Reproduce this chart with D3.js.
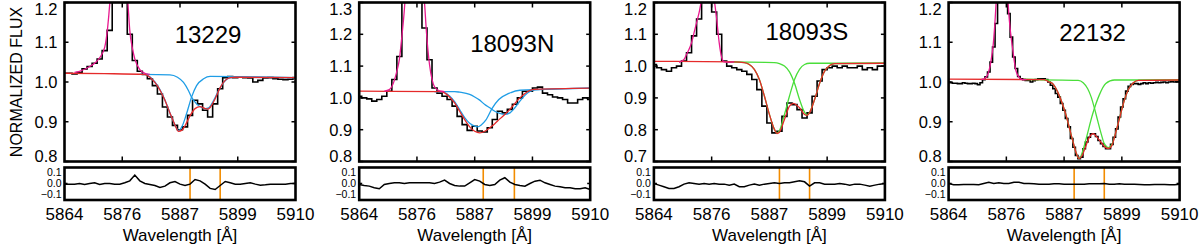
<!DOCTYPE html>
<html>
<head>
<meta charset="utf-8">
<script src="https://cdn.jsdelivr.net/npm/d3@7"></script>
<style>
body { margin: 0; background: #fff; }
text { font-family: "Liberation Sans", Arial, Helvetica, sans-serif; fill: #000; }
</style>
</head>
<body>
<div id="chart"></div>
<script>
// ---- Data ----
var names = ["13229", "18093N", "18093S", "22132"];
var xDomain = [5864, 5910];
var xTicks = [5864, 5875.5, 5887, 5898.5, 5910];
var xTickLabels = ["5864", "5876", "5887", "5899", "5910"];
var yDomains = [[0.8, 1.2], [0.8, 1.3], [0.7, 1.2], [0.8, 1.2]];
var yTicks = [
    [0.8, 0.9, 1.0, 1.1, 1.2],
    [0.8, 0.9, 1.0, 1.1, 1.2, 1.3],
    [0.7, 0.8, 0.9, 1.0, 1.1, 1.2],
    [0.8, 0.9, 1.0, 1.1, 1.2]
];
var resTicks = [0.1, 0.0, -0.1];
var resTickLabels = ["0.1", "0.0", "\u22120.1"];

// observed spectra (flux per bin, starting at 5864 A)
var obsStep = [1, 1, 1, 0.5];
var obs1 = [1.022, 1.022, 1.020, 1.024, 1.033, 1.039, 1.047, 1.058, 1.079, 1.130,
    1.35, 1.45, 1.30, 1.120, 1.054, 1.027, 1.019, 1.008, 0.991, 0.970,
    0.937, 0.912, 0.891, 0.880, 0.887, 0.916, 0.954, 0.945, 0.929, 0.912,
    0.945, 0.983, 1.011, 1.014, 1.011, 1.012, 1.011, 1.010, 1.000, 1.004,
    1.010, 1.011, 1.008, 1.007, 1.006, 1.007, 1.011];
var obs2 = [1.005, 1.000, 0.997, 0.990, 0.995, 1.005, 1.021, 1.058, 1.130, 1.40,
    1.5, 1.6, 1.5, 1.22, 1.120, 1.031, 1.015, 1.005, 0.995, 0.974,
    0.942, 0.916, 0.898, 0.911, 0.896, 0.893, 0.906, 0.932, 0.958, 0.953,
    0.964, 0.980, 1.000, 1.021, 1.021, 1.031, 1.034, 1.015, 1.010, 1.003,
    1.000, 0.995, 0.984, 0.984, 0.995, 1.000, 0.995];
var obs3 = [1.005, 0.995, 0.989, 0.984, 0.995, 1.000, 1.016, 1.042, 1.095, 1.148,
    1.25, 1.3, 1.17, 1.100, 1.016, 1.000, 0.995, 0.989, 0.984, 0.974,
    0.958, 0.926, 0.874, 0.821, 0.790, 0.795, 0.842, 0.884, 0.879, 0.863,
    0.837, 0.853, 0.905, 0.953, 0.989, 0.995, 1.000, 0.995, 1.000, 0.995,
    0.995, 1.000, 0.989, 0.995, 0.989, 1.000, 1.000];
var obs4 = [1.000, 0.998, 0.997, 0.997, 0.996, 0.996, 0.998, 0.997, 0.996, 0.996,
    0.997, 0.996, 0.993, 0.998, 1.006, 1.013, 1.025, 1.050, 1.088, 1.147,
    1.25, 1.35, 1.35, 1.25, 1.172, 1.113, 1.063, 1.034, 1.014, 1.008,
    1.006, 1.004, 1.004, 1.000, 1.003, 1.006, 1.008, 1.008, 1.008, 1.006,
    1.000, 0.992, 0.983, 0.971, 0.962, 0.946, 0.929, 0.908, 0.887, 0.858,
    0.836, 0.815, 0.807, 0.811, 0.832, 0.849, 0.861, 0.870, 0.870, 0.863,
    0.853, 0.845, 0.838, 0.832, 0.832, 0.843, 0.861, 0.882, 0.912, 0.937,
    0.958, 0.977, 0.989, 0.994, 0.996, 0.996, 0.994, 0.996, 0.998, 0.996,
    0.998, 0.997, 0.998, 0.999, 0.998, 0.999, 1.000, 0.998, 1.000, 1.001,
    1.000, 1.001, 1.001];

// residuals (1 A bins from 5864)
var res1 = [-0.006, -0.006, -0.006, 0, -0.009, 0, 0.006, -0.009, 0, 0,
    -0.006, -0.006, 0.006, 0.024, 0.076, 0.024, 0, -0.009, -0.018, -0.036,
    -0.024, 0.006, 0.018, -0.006, -0.018, -0.006, 0.036, 0.024, -0.006, -0.045,
    -0.055, -0.018, 0.018, 0.006, -0.006, -0.006, 0, 0.006, -0.006, -0.015,
    -0.012, -0.006, -0.006, -0.006, -0.006, 0, 0];
var res2 = [-0.009, -0.018, -0.024, -0.039, -0.048, -0.009, 0, 0.006, 0.006, 0,
    0.006, 0.006, 0.006, 0.006, 0.006, 0, 0.012, 0.030, 0, -0.018,
    -0.024, -0.024, 0.006, 0.036, 0.021, -0.009, -0.018, -0.009, 0.030, 0.052,
    0.012, -0.009, -0.018, -0.024, 0, 0.021, 0.030, 0.006, -0.009, -0.024,
    -0.030, -0.039, -0.039, -0.048, -0.048, -0.039, -0.055];
var res3 = [0, -0.015, -0.030, -0.045, -0.045, -0.030, -0.006, 0.006, 0, -0.006,
    0, -0.006, 0, -0.006, -0.006, -0.015, -0.006, -0.030, -0.030, -0.015,
    -0.006, -0.015, -0.006, 0, 0.006, 0, 0.006, 0.006, 0.015, 0.024,
    0.015, -0.024, 0.006, 0.006, -0.006, -0.006, -0.006, 0, -0.006, -0.015,
    -0.006, -0.006, -0.015, -0.024, -0.015, -0.006, 0];
var res4 = [0, -0.012, -0.012, -0.009, -0.009, -0.009, -0.012, 0, 0.012, 0,
    0.006, 0, 0, 0.012, 0.012, 0, 0, -0.003, -0.006, -0.006,
    -0.006, -0.003, -0.003, -0.006, -0.006, -0.006, -0.006, -0.006, -0.003, -0.003,
    -0.003, 0, -0.006, -0.006, -0.003, -0.006, -0.006, -0.006, -0.009, -0.012,
    -0.012, -0.009, -0.009, -0.009, -0.012, -0.012, -0.006];

// total absorption fits [wavelength, flux]
var fit1 = [[5864, 1.022], [5872, 1.021], [5880, 1.019], [5881, 1.012], [5882, 0.999], [5883, 0.980],
    [5884, 0.954], [5885, 0.922], [5886, 0.892], [5886.7, 0.876], [5887.4, 0.879], [5888, 0.890],
    [5889, 0.915], [5890, 0.933], [5891, 0.938], [5892, 0.933], [5892.6, 0.932], [5893, 0.936],
    [5894, 0.958], [5895, 0.986], [5896, 1.004], [5897, 1.011], [5898, 1.012], [5910, 1.011]];
var fit2 = [[5864, 1.021], [5880, 1.020], [5881, 1.016], [5882, 1.003], [5883, 0.984], [5884, 0.958],
    [5885, 0.932], [5886, 0.909], [5887, 0.895], [5888, 0.890], [5889, 0.895], [5890, 0.906],
    [5891, 0.919], [5892, 0.934], [5893, 0.948], [5894, 0.964], [5895, 0.983], [5896, 1.000],
    [5897, 1.014], [5898, 1.024], [5899, 1.027], [5910, 1.031]];
var fit3 = [[5864, 1.015], [5880, 1.013], [5882, 1.011], [5883, 1.005], [5884, 0.990], [5885, 0.958],
    [5886, 0.906], [5887, 0.848], [5888, 0.801], [5888.5, 0.788], [5889, 0.792], [5890, 0.832],
    [5891, 0.874], [5891.8, 0.883], [5892.5, 0.876], [5893, 0.869], [5894, 0.848], [5894.5, 0.845],
    [5895, 0.853], [5896, 0.895], [5897, 0.946], [5898, 0.984], [5899, 1.002], [5900, 1.008], [5910, 1.009]];
var fit4 = [[5864, 1.007], [5883, 1.006], [5884, 1.000], [5884.7, 0.996], [5886, 0.967], [5887.3, 0.920],
    [5888.7, 0.853], [5889.4, 0.822], [5890, 0.807], [5890.6, 0.815], [5891.3, 0.838], [5892, 0.860],
    [5892.8, 0.870], [5893.5, 0.862], [5894.5, 0.846], [5895.3, 0.835], [5895.9, 0.833], [5896.6, 0.843],
    [5897.2, 0.869], [5897.9, 0.902], [5898.6, 0.936], [5899.2, 0.962], [5899.9, 0.983], [5900.8, 0.998],
    [5901.8, 1.004], [5910, 1.005]];

// individual components
var comp1a = [[5879, 1.019], [5880, 1.019], [5881, 1.013], [5882, 1.000], [5883, 0.981], [5884, 0.955],
    [5885, 0.922], [5886, 0.892], [5886.7, 0.878], [5887.4, 0.888], [5888.3, 0.920], [5889.3, 0.962],
    [5890.3, 0.991], [5891.7, 1.008], [5893, 1.014], [5910, 1.011]];
var comp1b = [[5879, 1.019], [5885, 1.018], [5886.5, 1.012], [5887.7, 0.999], [5888.7, 0.978],
    [5889.3, 0.962], [5890.3, 0.945], [5891.3, 0.936], [5892, 0.933], [5892.7, 0.935], [5893.7, 0.954],
    [5894.7, 0.979], [5895.7, 0.999], [5896.7, 1.010], [5898, 1.012], [5910, 1.011]];
var comp2a = [[5879, 1.020], [5880, 1.020], [5881, 1.017], [5882, 1.006], [5883, 0.988], [5884, 0.963],
    [5885, 0.938], [5886, 0.920], [5887, 0.911], [5887.6, 0.909], [5888.3, 0.915], [5889.2, 0.930],
    [5890.5, 0.968], [5891.8, 0.995], [5893.8, 1.014], [5896, 1.024], [5910, 1.031]];
var comp2b = [[5879, 1.020], [5883, 1.020], [5884, 1.018], [5886, 1.011], [5887, 1.003], [5888, 0.993],
    [5889, 0.979], [5890, 0.969], [5891, 0.958], [5892, 0.951], [5893, 0.948], [5894, 0.953],
    [5895, 0.969], [5896, 0.990], [5897, 1.008], [5898, 1.020], [5899, 1.025], [5910, 1.031]];
var comp3a = [[5878.5, 1.013], [5882, 1.011], [5883, 1.005], [5884, 0.990], [5885, 0.958], [5886, 0.906],
    [5887, 0.848], [5888, 0.801], [5888.5, 0.789], [5889, 0.797], [5890, 0.848], [5891, 0.906],
    [5892, 0.958], [5893, 0.990], [5894, 1.005], [5895, 1.009], [5910, 1.009]];
var comp3b = [[5878.5, 1.013], [5888, 1.011], [5889, 1.008], [5890, 1.000], [5891, 0.982], [5892, 0.946],
    [5893, 0.895], [5894, 0.855], [5894.5, 0.846], [5895, 0.855], [5896, 0.895], [5897, 0.946],
    [5898, 0.984], [5899, 1.002], [5900, 1.008], [5910, 1.009]];
var comp4a = [[5879, 1.007], [5883, 1.006], [5884.7, 0.996], [5886, 0.967], [5887.3, 0.920],
    [5888.7, 0.853], [5889.4, 0.822], [5890, 0.807], [5890.6, 0.822], [5891.3, 0.853], [5892.7, 0.920],
    [5894, 0.967], [5895.3, 0.996], [5897, 1.005], [5910, 1.005]];
var comp4b = [[5879, 1.006], [5889.8, 1.004], [5890.8, 0.998], [5891.7, 0.983], [5892.4, 0.962],
    [5893.0, 0.936], [5893.7, 0.902], [5894.4, 0.869], [5895.0, 0.845], [5895.8, 0.835], [5896.6, 0.845],
    [5897.2, 0.869], [5897.9, 0.902], [5898.6, 0.936], [5899.2, 0.962], [5899.9, 0.983], [5900.8, 0.998],
    [5901.8, 1.004], [5910, 1.005]];

// He I emission fits
var emis1 = [[5866, 1.024], [5867, 1.027], [5868, 1.032], [5869, 1.039], [5870, 1.047],
    [5871, 1.061], [5872, 1.087], [5872.6, 1.138], [5873, 1.196], [5873.5, 1.30], [5874.8, 1.55],
    [5876, 1.32], [5876.6, 1.205], [5877, 1.130], [5877.6, 1.080], [5878, 1.058], [5879, 1.031],
    [5880, 1.022], [5881, 1.019]];
var emis2 = [[5869, 1.021], [5870, 1.026], [5871, 1.055], [5871.5, 1.084], [5872, 1.121],
    [5872.5, 1.194], [5873, 1.279], [5873.3, 1.35], [5875, 1.75], [5876.7, 1.35], [5877, 1.30],
    [5877.4, 1.205], [5878, 1.105], [5878.5, 1.058], [5879, 1.035], [5880, 1.022], [5881, 1.020]];
var emis3 = [[5869, 1.012], [5870, 1.021], [5870.5, 1.037], [5871, 1.053], [5871.5, 1.074],
    [5872, 1.105], [5872.5, 1.137], [5873, 1.168], [5873.5, 1.21], [5874.8, 1.30], [5876, 1.21],
    [5876.5, 1.148], [5877, 1.074], [5877.5, 1.027], [5878, 1.013], [5879, 1.012], [5880, 1.013]];
var emis4 = [[5870.5, 1.006], [5871.2, 1.009], [5871.8, 1.019], [5872.4, 1.050],
    [5872.9, 1.096], [5873.3, 1.164], [5873.6, 1.23], [5874.7, 1.60], [5875.7, 1.23], [5876.1, 1.155],
    [5876.8, 1.079], [5877.4, 1.029], [5878.1, 1.011], [5878.7, 1.006], [5879.5, 1.006]];

// Na D marker positions in the residual boxes
var markers = [[5889.0, 5895.0], [5888.7, 5894.9], [5889.0, 5895.0], [5889.0, 5895.0]];
var compColors = ["#1f9de6", "#1f9de6", "#4ade3a", "#4ade3a"];

// ---- Layout ----
var svgWidth = 1200;
var svgHeight = 250;
var panelLeft0 = 64.5;
var panelGap = 294.7;
var panelWidth = 231;
var mainTop = 2.5, mainBottom = 161.5;
var resTop = 167.5, resBottom = 200;
var titleOffsets = [[143.5, 42.5], [153, 51.5], [153, 39.5], [144, 40.5]];

var panels = [
    { obs: obs1, res: res1, fit: fit1, comps: [comp1a, comp1b], emis: emis1 },
    { obs: obs2, res: res2, fit: fit2, comps: [comp2a, comp2b], emis: emis2 },
    { obs: obs3, res: res3, fit: fit3, comps: [comp3a, comp3b], emis: emis3 },
    { obs: obs4, res: res4, fit: fit4, comps: [comp4a, comp4b], emis: emis4 }
];

var svg = d3.select("#chart")
    .append("svg")
    .attr("width", svgWidth)
    .attr("height", svgHeight);

// Y axis title
svg.append("text")
    .attr("transform", "translate(21.5, 82) rotate(-90)")
    .attr("text-anchor", "middle")
    .attr("font-size", 16)
    .text("NORMALIZED FLUX");

panels.forEach(function (p, i) {
    var left = panelLeft0 + i * panelGap;
    var right = left + panelWidth;

    var xScale = d3.scaleLinear().domain(xDomain).range([left, right]);
    var yScale = d3.scaleLinear().domain(yDomains[i]).range([mainBottom, mainTop]);
    var rScale = d3.scaleLinear().domain([-0.15, 0.145]).range([resBottom, resTop]);

    var clipId = "clip" + i;
    svg.append("clipPath").attr("id", clipId)
        .append("rect")
        .attr("x", left).attr("y", mainTop)
        .attr("width", panelWidth).attr("height", mainBottom - mainTop);

    var g = svg.append("g").attr("clip-path", "url(#" + clipId + ")");

    // observed spectrum as a histogram
    var obsLine = d3.line()
        .x(function (d, k) { return xScale(xDomain[0] + k * obsStep[i]); })
        .y(function (d) { return yScale(d); })
        .curve(d3.curveStep);
    g.append("path")
        .datum(p.obs)
        .attr("d", obsLine)
        .attr("fill", "none")
        .attr("stroke", "#000")
        .attr("stroke-width", 1.6);

    var fitLine = d3.line()
        .x(function (d) { return xScale(d[0]); })
        .y(function (d) { return yScale(d[1]); })
        .curve(d3.curveMonotoneX);

    // components
    p.comps.forEach(function (c) {
        g.append("path")
            .datum(c)
            .attr("d", fitLine)
            .attr("fill", "none")
            .attr("stroke", compColors[i])
            .attr("stroke-width", 1.3);
    });

    // total fit
    g.append("path")
        .datum(p.fit)
        .attr("d", fitLine)
        .attr("fill", "none")
        .attr("stroke", "#e52a2a")
        .attr("stroke-width", 1.3);

    // emission fit
    g.append("path")
        .datum(p.emis)
        .attr("d", fitLine)
        .attr("fill", "none")
        .attr("stroke", "#e8188e")
        .attr("stroke-width", 1.3);

    // main frame
    svg.append("rect")
        .attr("x", left).attr("y", mainTop)
        .attr("width", panelWidth).attr("height", mainBottom - mainTop)
        .attr("fill", "none").attr("stroke", "#000").attr("stroke-width", 2.6);

    // inner x ticks (top and bottom)
    xTicks.slice(1, -1).forEach(function (t) {
        svg.append("line")
            .attr("x1", xScale(t)).attr("x2", xScale(t))
            .attr("y1", mainBottom).attr("y2", mainBottom - 5)
            .attr("stroke", "#000").attr("stroke-width", 1.5);
        svg.append("line")
            .attr("x1", xScale(t)).attr("x2", xScale(t))
            .attr("y1", mainTop).attr("y2", mainTop + 5)
            .attr("stroke", "#000").attr("stroke-width", 1.5);
    });

    // y ticks and labels
    yTicks[i].forEach(function (t) {
        var y = yScale(t);
        svg.append("line")
            .attr("x1", left).attr("x2", left + 4)
            .attr("y1", y).attr("y2", y)
            .attr("stroke", "#000").attr("stroke-width", 1.5);
        svg.append("line")
            .attr("x1", right).attr("x2", right - 4)
            .attr("y1", y).attr("y2", y)
            .attr("stroke", "#000").attr("stroke-width", 1.5);
        var ly = Math.min(Math.max(y, mainTop + 7), mainBottom - 5);
        svg.append("text")
            .attr("x", left - 7)
            .attr("y", ly)
            .attr("dy", "0.36em")
            .attr("text-anchor", "end")
            .attr("font-size", 16.5)
            .text(t.toFixed(1));
    });

    // object name
    svg.append("text")
        .attr("x", left + titleOffsets[i][0])
        .attr("y", titleOffsets[i][1])
        .attr("text-anchor", "middle")
        .attr("font-size", 24)
        .text(names[i]);

    // ---- residual box ----
    markers[i].forEach(function (m) {
        svg.append("line")
            .attr("x1", xScale(m)).attr("x2", xScale(m))
            .attr("y1", resTop).attr("y2", resBottom)
            .attr("stroke", "#f28c00").attr("stroke-width", 1.6);
    });

    var resLine = d3.line()
        .x(function (d, k) { return xScale(xDomain[0] + k); })
        .y(function (d) { return rScale(d); });
    svg.append("path")
        .datum(p.res)
        .attr("d", resLine)
        .attr("fill", "none")
        .attr("stroke", "#000")
        .attr("stroke-width", 1.5);

    svg.append("rect")
        .attr("x", left).attr("y", resTop)
        .attr("width", panelWidth).attr("height", resBottom - resTop)
        .attr("fill", "none").attr("stroke", "#000").attr("stroke-width", 2.6);

    [left, right].forEach(function (xx, s) {
        svg.append("line")
            .attr("x1", xx).attr("x2", s === 0 ? xx + 3 : xx - 3)
            .attr("y1", rScale(0)).attr("y2", rScale(0))
            .attr("stroke", "#000").attr("stroke-width", 1.5);
    });

    resTicks.forEach(function (t, k) {
        svg.append("text")
            .attr("x", left - 3)
            .attr("y", rScale(t))
            .attr("dy", "0.36em")
            .attr("text-anchor", "end")
            .attr("font-size", 10.5)
            .text(resTickLabels[k]);
    });

    // x tick labels
    xTicks.forEach(function (t, k) {
        svg.append("text")
            .attr("x", xScale(t))
            .attr("y", 220)
            .attr("text-anchor", "middle")
            .attr("font-size", 17)
            .text(xTickLabels[k]);
    });

    svg.append("text")
        .attr("x", (left + right) / 2)
        .attr("y", 241)
        .attr("text-anchor", "middle")
        .attr("font-size", 17)
        .text("Wavelength [\u00c5]");
});
</script>
</body>
</html>
